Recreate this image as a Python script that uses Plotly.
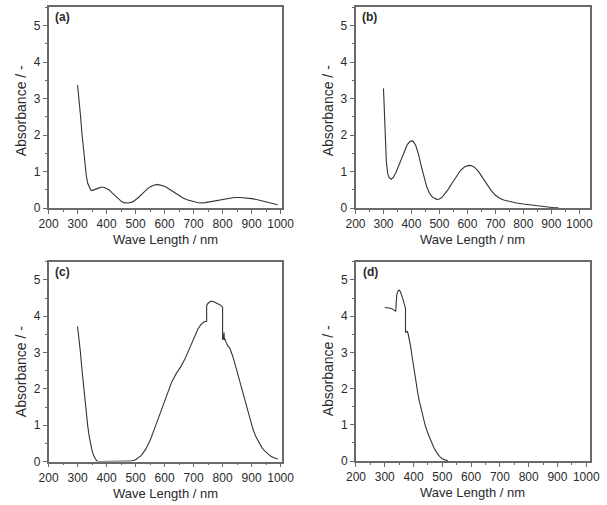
import plotly.graph_objects as go

# ---------------- data ----------------
wl_a = [300, 305, 310, 315, 320, 325, 330, 335, 340, 345, 350, 360, 370, 380, 390, 400, 410, 420, 430,
        440, 450, 460, 475, 490, 500, 510, 520, 530, 540, 550, 560, 575, 590, 600, 610, 620, 635,
        650, 665, 680, 700, 720, 740, 760, 780, 800, 820, 840, 860, 880, 900, 920, 940, 960, 975, 990]
abs_a = [3.37, 3.0, 2.55, 2.05, 1.6, 1.2, 0.9, 0.68, 0.56, 0.5, 0.48, 0.5, 0.54, 0.57, 0.57, 0.54, 0.49, 0.41, 0.33,
         0.25, 0.19, 0.15, 0.14, 0.17, 0.22, 0.29, 0.37, 0.45, 0.52, 0.58, 0.62, 0.65, 0.63, 0.6, 0.55, 0.5, 0.42,
         0.34, 0.27, 0.22, 0.17, 0.14, 0.15, 0.18, 0.22, 0.25, 0.27, 0.29, 0.29, 0.28, 0.26, 0.23, 0.19, 0.15, 0.12, 0.09]

wl_b = [300, 303, 306, 310, 315, 320, 328, 335, 345, 355, 365, 375, 385, 395, 405, 415, 425, 435, 445,
        455, 465, 475, 490, 500, 510, 520, 530, 545, 560, 575, 590, 605, 615, 625, 640, 655, 670,
        685, 700, 715, 730, 750, 775, 800, 830, 860, 890, 910, 925]
abs_b = [3.28, 2.6, 1.9, 1.3, 0.95, 0.84, 0.79, 0.84, 0.98, 1.17, 1.38, 1.58, 1.74, 1.83, 1.84, 1.72, 1.48, 1.15, 0.83,
         0.57, 0.4, 0.3, 0.24, 0.25, 0.3, 0.39, 0.5, 0.68, 0.87, 1.03, 1.13, 1.17, 1.16, 1.12, 1.0, 0.83, 0.65,
         0.48, 0.35, 0.27, 0.22, 0.18, 0.14, 0.11, 0.08, 0.05, 0.02, 0.01, 0.01]

wl_c = [300, 305, 310, 315, 320, 325, 330, 335, 340, 345, 350, 355, 360, 365, 370, 400, 430, 470, 485,
        500, 510, 520, 535, 550, 565, 580, 595, 610, 625, 640, 655, 670, 685, 700, 715, 725, 735, 745,
        745, 750, 760, 770, 780, 790, 800, 800, 803, 805, 806, 808, 812, 818, 824, 828, 835, 845, 855,
        865, 875, 885, 895, 905, 915, 925, 935, 945, 955, 965, 975, 990]
abs_c = [3.72, 3.4, 3.0, 2.55, 2.1, 1.7, 1.3, 0.98, 0.7, 0.48, 0.3, 0.17, 0.08, 0.03, 0.0, 0.0, 0.0, 0.0, 0.01,
         0.05, 0.1, 0.17, 0.34, 0.58, 0.9, 1.23, 1.58, 1.92, 2.2, 2.42, 2.6, 2.82, 3.1, 3.38, 3.65, 3.77, 3.84, 3.86,
         4.3, 4.36, 4.42, 4.4, 4.36, 4.32, 4.25, 3.35, 3.4, 3.55, 3.35, 3.38, 3.28, 3.18, 3.14, 3.07, 2.9, 2.62, 2.33,
         2.02, 1.7, 1.4, 1.12, 0.88, 0.68, 0.52, 0.39, 0.29, 0.21, 0.15, 0.11, 0.07]

wl_d = [300, 310, 320, 330, 338, 340, 342, 346, 350, 354, 358, 362, 366, 370, 372, 372, 375, 378, 381,
        385, 390, 395, 400, 405, 410, 415, 420, 430, 440, 450, 460, 470, 480, 490, 500, 510, 520]
abs_d = [4.24, 4.24, 4.22, 4.18, 4.13, 4.4, 4.6, 4.69, 4.72, 4.68, 4.6, 4.5, 4.38, 4.27, 4.22, 3.55, 3.58, 3.58, 3.52,
         3.38, 3.15, 2.88, 2.6, 2.33, 2.08, 1.86, 1.66, 1.3, 1.0, 0.76, 0.55, 0.38, 0.24, 0.13, 0.06, 0.02, 0.0]

panel_labels = ["(a)", "(b)", "(c)", "(d)"]
x_title = "Wave Length / nm"
y_title = "Absorbance / -"
x_ticks = [200, 300, 400, 500, 600, 700, 800, 900, 1000]
y_ticks = [0, 1, 2, 3, 4, 5]

# ---------------- layout geometry ----------------
W, H = 607, 505
panels = [
    dict(x=(40, 282), y=(7.5, 211), xr=(200, 1004), data=(wl_a, abs_a)),
    dict(x=(358.5, 601.5), y=(7.5, 211), xr=(200, 1037), data=(wl_b, abs_b)),
    dict(x=(40, 282), y=(265.5, 468), xr=(200, 1004), data=(wl_c, abs_c)),
    dict(x=(359, 601.5), y=(265.5, 467.5), xr=(200, 1012), data=(wl_d, abs_d)),
]

FONT = "Liberation Sans, Arial, sans-serif"
TXT = "#2a2a2a"
FRAME = "#6a6a6a"

fig = go.Figure()
layout = dict(width=W, height=H, margin=dict(l=0, r=0, t=0, b=0),
              paper_bgcolor="white", plot_bgcolor="white", showlegend=False,
              font=dict(family=FONT, color=TXT, size=12))
annotations = []

for i, p in enumerate(panels):
    n = i + 1
    xa = "x" if n == 1 else f"x{n}"
    ya = "y" if n == 1 else f"y{n}"
    fig.add_trace(go.Scatter(x=p["data"][0], y=p["data"][1], mode="lines",
                             line=dict(color="#333333", width=1.1),
                             xaxis=xa, yaxis=ya, hoverinfo="skip"))
    xd = [p["x"][0] / W, p["x"][1] / W]
    yd = [1 - p["y"][1] / H, 1 - p["y"][0] / H]
    common = dict(showline=True, mirror=True, linecolor=FRAME, linewidth=1.6,
                  ticks="outside", ticklen=4, tickwidth=1, tickcolor=FRAME,
                  showgrid=False, zeroline=False, fixedrange=True,
                  tickfont=dict(family=FONT, size=12, color=TXT))
    layout["xaxis" if n == 1 else f"xaxis{n}"] = dict(
        common, domain=xd, range=list(p["xr"]), anchor=ya,
        tickvals=x_ticks, ticktext=[str(v) for v in x_ticks],
        minor=dict(dtick=50, tick0=0, ticks="outside", ticklen=2, tickcolor=FRAME, showgrid=False))
    layout["yaxis" if n == 1 else f"yaxis{n}"] = dict(
        common, domain=yd, range=[0, 5.5], anchor=xa,
        tickvals=y_ticks, ticktext=[str(v) for v in y_ticks],
        minor=dict(dtick=0.5, tick0=0, ticks="outside", ticklen=2, tickcolor=FRAME, showgrid=False))

    cx = (p["x"][0] + p["x"][1]) / 2
    annotations.append(dict(text=x_title, x=cx / W, y=1 - (p["y"][1] + 32) / H,
                            xref="paper", yref="paper", showarrow=False,
                            xanchor="center", yanchor="middle",
                            font=dict(family=FONT, size=13, color=TXT)))
    cy = (p["y"][0] + p["y"][1]) / 2 + (3 if n <= 2 else 10)
    annotations.append(dict(text=y_title, x=(p["x"][0] - 29) / W, y=1 - cy / H,
                            xref="paper", yref="paper", showarrow=False, textangle=-90,
                            xanchor="center", yanchor="middle",
                            font=dict(family=FONT, size=14, color=TXT)))
    annotations.append(dict(text="<b>" + panel_labels[i] + "</b>", x=(p["x"][0] + 5) / W,
                            y=1 - (p["y"][0] + 10) / H, xref="paper", yref="paper",
                            showarrow=False, xanchor="left", yanchor="middle",
                            font=dict(family=FONT, size=12, color=TXT)))

layout["annotations"] = annotations
fig.update_layout(**layout)
fig.write_html("out.html")
